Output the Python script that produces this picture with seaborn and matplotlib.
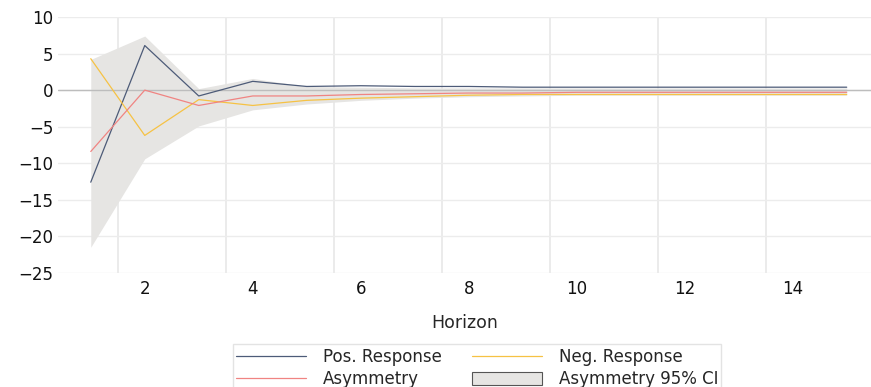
import numpy as np
import pandas as pd
import matplotlib
matplotlib.use("Agg")
import matplotlib.pyplot as plt
from matplotlib.patches import Patch
from matplotlib.lines import Line2D
import seaborn as sns

horizon = list(range(1, 16))
pos_resp = [-12.6, 6.1, -0.8, 1.2, 0.5, 0.6, 0.5, 0.5, 0.4, 0.4, 0.4, 0.4, 0.4, 0.4, 0.4]
neg_resp = [4.3, -6.2, -1.3, -2.1, -1.4, -1.1, -0.9, -0.7, -0.6, -0.6, -0.6, -0.6, -0.6, -0.6, -0.6]
asym = [-8.4, 0.0, -2.1, -0.8, -0.8, -0.6, -0.5, -0.4, -0.4, -0.3, -0.3, -0.3, -0.3, -0.3, -0.3]
ci_upper = [4.2, 7.4, 0.2, 1.6, 0.5, 0.4, 0.3, 0.3, 0.3, 0.3, 0.3, 0.3, 0.3, 0.3, 0.3]
ci_lower = [-21.5, -9.4, -4.9, -2.7, -1.9, -1.4, -1.1, -0.9, -0.8, -0.7, -0.7, -0.7, -0.7, -0.7, -0.7]

labels = ["Pos. Response", "Neg. Response", "Asymmetry"]
colors = {"Pos. Response": "#4d5b78", "Neg. Response": "#f6c244", "Asymmetry": "#f08482"}
band_color = "#e6e5e3"

df = pd.DataFrame({
    "Horizon": horizon * 3,
    "value": pos_resp + neg_resp + asym,
    "series": [labels[0]] * 15 + [labels[1]] * 15 + [labels[2]] * 15,
})

sns.set_style("whitegrid")
plt.rcParams['font.family'] = ['DejaVu Sans']

fig = plt.figure(figsize=(8.71, 3.87), dpi=100)
ax = fig.add_axes([0.067, 0.295, 0.933, 0.661])

ax.fill_between(horizon, ci_lower, ci_upper, color=band_color, lw=0, zorder=1)
ax.axhline(0, color="#bdbdbd", lw=1.0, zorder=1.5)
sns.lineplot(data=df, x="Horizon", y="value", hue="series", palette=colors,
             linewidth=0.9, ax=ax, legend=False, zorder=2)

ax.set_xlim(0.4, 15.45)
ax.set_ylim(-25, 10)
ax.set_xticks(range(2, 15, 2))
ax.set_xticks(np.arange(1.5, 14, 2), minor=True)
ax.set_yticks(range(-25, 11, 5))
ax.grid(False, axis="x", which="major")
ax.grid(True, axis="x", which="minor", color="#e8e8e8", lw=1.2)
ax.grid(True, axis="y", which="major", color="#ececec", lw=1.0)
ax.tick_params(axis="both", which="both", length=0, labelsize=12, colors="#111111")
ax.tick_params(axis="x", pad=5)
ax.set_xlabel("Horizon", fontsize=12.5, labelpad=12)
ax.set_ylabel("")
for s in ax.spines.values():
    s.set_visible(False)

# row-wise order: Pos, Neg / Asym, CI
handles = [
    Line2D([0], [0], color=colors["Pos. Response"], lw=0.9),
    Line2D([0], [0], color=colors["Asymmetry"], lw=0.9),
    Line2D([0], [0], color=colors["Neg. Response"], lw=0.9),
    Patch(facecolor=band_color, edgecolor="#555555", lw=0.8),
]
leg_labels = ["Pos. Response", "Asymmetry", "Neg. Response", "Asymmetry 95% CI"]
fig.legend(handles, leg_labels, ncol=2, loc="upper center", bbox_to_anchor=(0.548, 0.11),
           frameon=True, fancybox=False, edgecolor="#dddddd", fontsize=12,
           handlelength=4.2, handleheight=0.8, columnspacing=1.8, labelspacing=0.25,
           borderpad=0.2, handletextpad=1.0, borderaxespad=0)

fig.savefig("out.png", dpi=100)
